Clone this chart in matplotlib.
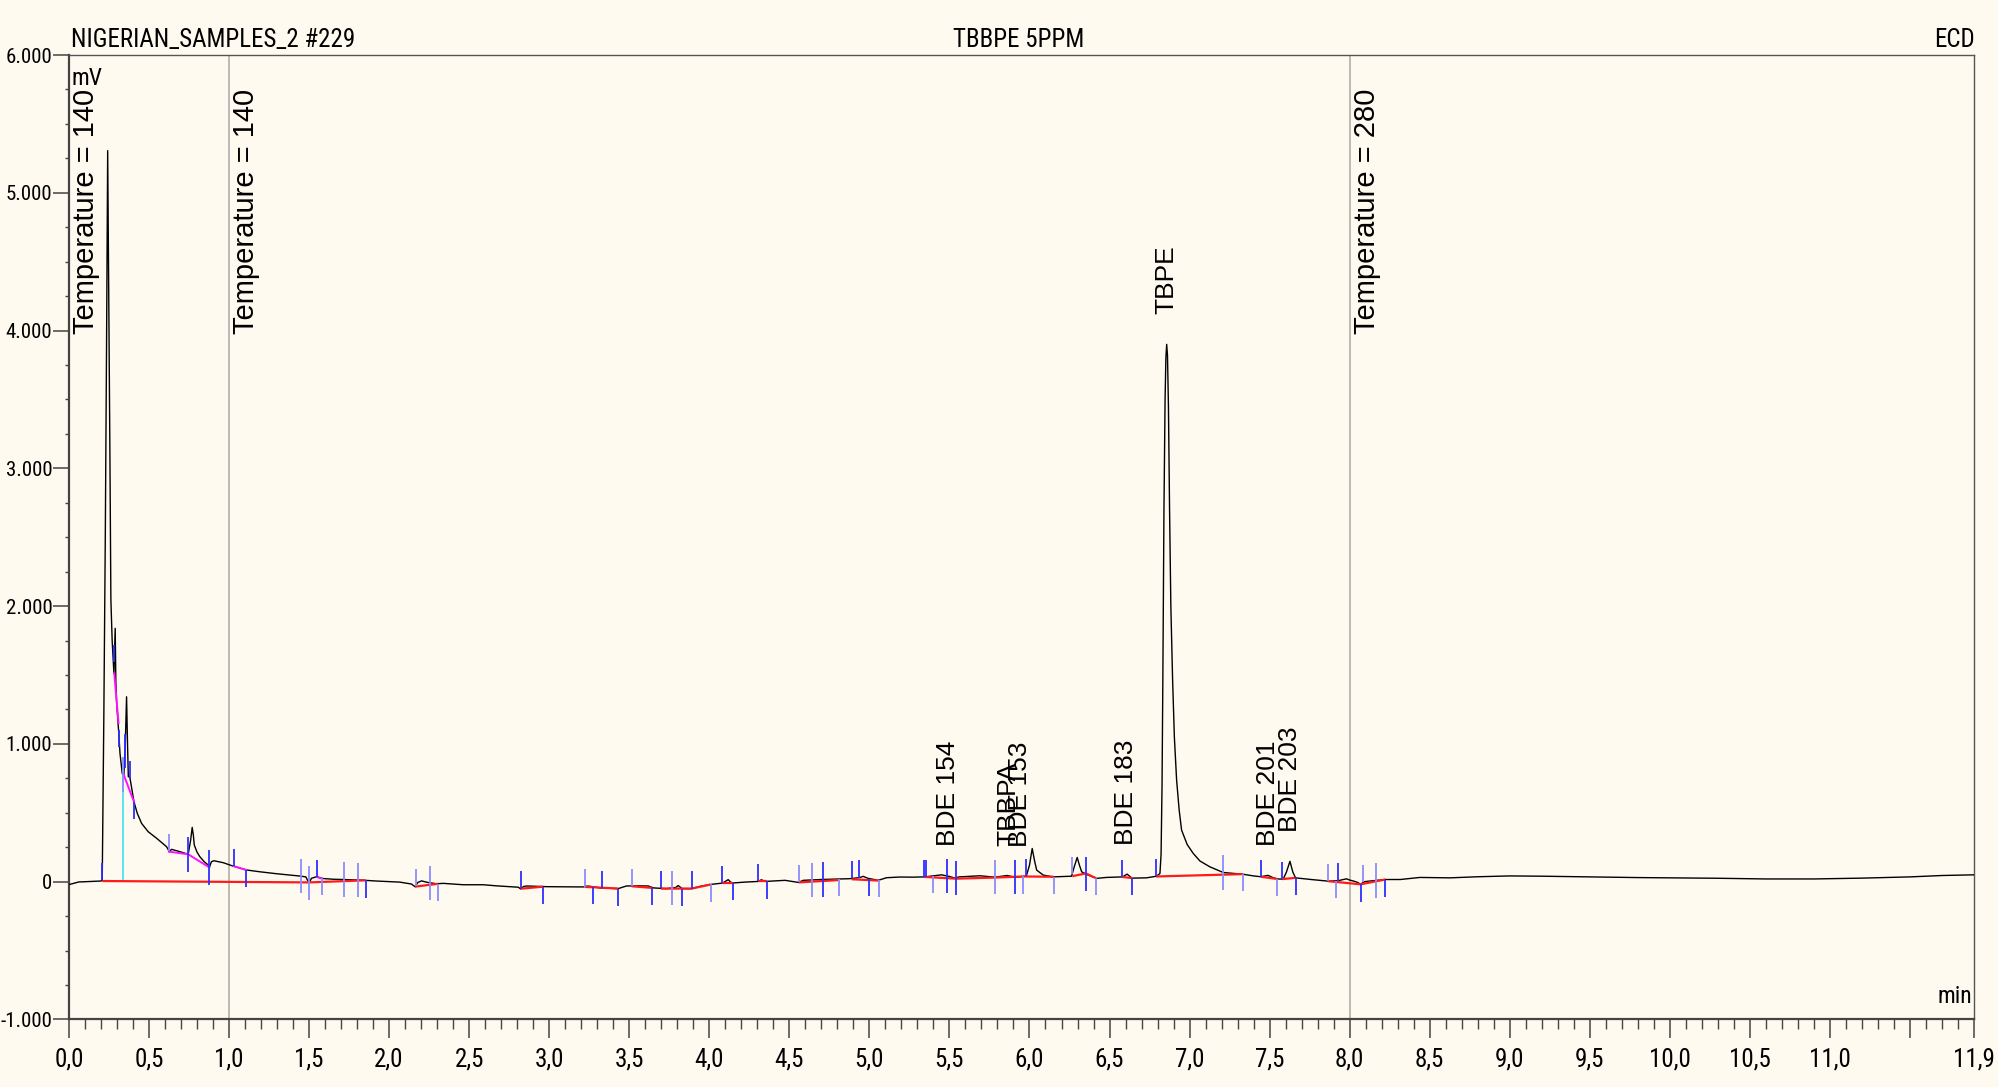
import numpy as np
import matplotlib
matplotlib.use("Agg")
import matplotlib.pyplot as plt
from matplotlib.ticker import FixedLocator, MultipleLocator
from matplotlib import font_manager as fm

# ---------------- data ----------------
time_min = [0.000, 0.020, 0.060, 0.100, 0.150, 0.200, 0.208, 0.218, 0.227, 0.235, 0.242,
            0.250, 0.256, 0.262, 0.270, 0.281, 0.289, 0.293, 0.298, 0.310, 0.319, 0.333,
            0.343, 0.352, 0.360, 0.366, 0.371, 0.380, 0.387, 0.406, 0.427, 0.454, 0.495,
            0.548, 0.610, 0.627, 0.641, 0.693, 0.745, 0.760, 0.770, 0.777, 0.783, 0.800,
            0.818, 0.845, 0.870, 0.877, 0.890, 0.906, 0.964, 1.026, 1.110, 1.193, 1.297,
            1.380, 1.443, 1.480, 1.495, 1.501, 1.515, 1.547, 1.588, 1.650, 1.713, 1.838,
            1.920, 2.005, 2.067, 2.140, 2.161, 2.180, 2.203, 2.240, 2.296, 2.338, 2.463,
            2.588, 2.671, 2.807, 2.821, 2.840, 2.859, 2.983, 3.100, 3.212, 3.235, 3.254,
            3.317, 3.431, 3.483, 3.560, 3.619, 3.650, 3.733, 3.790, 3.806, 3.830, 3.887,
            3.950, 4.014, 4.083, 4.118, 4.140, 4.220, 4.306, 4.325, 4.350, 4.473, 4.556,
            4.587, 4.700, 4.878, 4.940, 4.961, 4.990, 5.055, 5.107, 5.190, 5.270, 5.347,
            5.451, 5.500, 5.534, 5.560, 5.690, 5.784, 5.861, 5.909, 5.980, 6.000, 6.017,
            6.032, 6.045, 6.086, 6.148, 6.263, 6.280, 6.298, 6.312, 6.326, 6.357, 6.419,
            6.480, 6.581, 6.610, 6.640, 6.730, 6.794, 6.815, 6.822, 6.828, 6.833, 6.840,
            6.847, 6.852, 6.857, 6.862, 6.868, 6.875, 6.883, 6.894, 6.905, 6.919, 6.935,
            6.950, 6.985, 7.023, 7.065, 7.127, 7.210, 7.335, 7.400, 7.445, 7.490, 7.520,
            7.547, 7.585, 7.605, 7.627, 7.645, 7.662, 7.751, 7.866, 7.930, 7.980, 8.000,
            8.026, 8.050, 8.068, 8.090, 8.127, 8.222, 8.316, 8.439, 8.626, 8.800, 9.000,
            9.200, 9.500, 9.800, 10.000, 10.300, 10.600, 10.900, 11.200, 11.500, 11.700,
            11.900]
signal = [-20, -15, -2, 0, 2, 5, 10, 1200, 2480, 3900, 5306,
          4050, 3100, 2050, 1750, 1512, 1839, 1450, 1300, 1100, 931, 785,
          774, 1000, 1342, 1000, 762, 760, 714, 581, 496, 423, 363,
          315, 254, 218, 235, 218, 199, 300, 394, 340, 266, 215,
          181, 145, 121, 104, 145, 152, 138, 113, 85, 72, 58,
          48, 41, 35, 0, -8, 25, 36, 23, 18, 16, 11,
          5, 0, -3, -17, -36, -5, 6, -5, -15, -12, -22,
          -22, -30, -40, -52, -35, -31, -36, -37, -38, -32, -33,
          -45, -50, -31, -30, -31, -45, -50, -42, -28, -50, -50,
          -32, -19, -10, 15, -10, -3, 2, 14, 2, 10, -5,
          10, 16, 22, 30, 39, 25, 10, 29, 34, 33, 35,
          50, 38, 26, 35, 43, 33, 45, 33, 40, 120, 241,
          150, 84, 48, 35, 40, 110, 176, 120, 72, 53, 24,
          31, 35, 55, 26, 28, 40, 60, 200, 700, 1466, 2700,
          3500, 3800, 3900, 3820, 3450, 2700, 2000, 1466, 1050, 738, 520,
          375, 270, 205, 150, 108, 67, 54, 42, 36, 46, 30,
          20, 19, 70, 148, 70, 28, 17, 4, 8, 21, 12,
          4, -5, -19, 0, 5, 16, 16, 31, 28, 36, 42,
          40, 35, 30, 28, 25, 20, 20, 26, 35, 45,
          50]

# integration baselines (red) and tangent baselines (magenta)
red_t = [[0.208, 1.501, 1.853], [2.161, 2.306], [2.821, 2.962], [3.223, 3.275, 3.431],
         [3.515, 3.644], [3.698, 3.889, 4.010], [4.081, 4.149], [4.306, 4.362],
         [4.558, 4.808], [4.889, 5.059], [5.343, 5.540, 5.784, 5.961, 6.152],
         [6.267, 6.352, 6.415], [6.579, 6.641], [6.791, 7.331], [7.445, 7.547],
         [7.578, 7.662], [7.866, 8.068, 8.222]]
red_v = [[5, -5, 10], [-36, -15], [-51, -36], [-38, -40, -50],
         [-33, -45], [-50, -50, -20], [-10, -10], [2, 2],
         [-5, 12], [18, 8], [35, 22, 30, 38, 36],
         [40, 60, 26], [35, 26], [38, 55], [36, 20],
         [19, 28], [4, -19, 16]]
magenta_t = [[0.283, 0.310], [0.343, 0.406], [0.625, 0.745, 0.877], [1.030, 1.108], [1.551, 1.581]]
magenta_v = [[1513, 1150], [774, 581], [218, 199, 104], [113, 85], [33, 22]]
cyan_t = 0.339
cyan_top = 780

# peak delimiter marks: time, direction (1 up, -1 down, 0 both), light shade
mark_t = [0.208, 0.283, 0.310, 0.339, 0.350, 0.381, 0.406, 0.625, 0.745, 0.877, 1.030,
          1.108, 1.447, 1.501, 1.551, 1.581, 1.718, 1.805, 1.853, 2.165, 2.256, 2.306,
          2.825, 2.962, 3.223, 3.275, 3.331, 3.431, 3.515, 3.644, 3.698, 3.766, 3.831,
          3.889, 4.010, 4.081, 4.149, 4.306, 4.362, 4.558, 4.639, 4.711, 4.808, 4.889,
          4.936, 4.999, 5.059, 5.343, 5.353, 5.395, 5.486, 5.540, 5.784, 5.911, 5.961,
          5.978, 6.152, 6.267, 6.352, 6.415, 6.579, 6.641, 6.791, 7.210, 7.331, 7.445,
          7.547, 7.578, 7.662, 7.866, 7.914, 7.928, 8.068, 8.085, 8.162, 8.222]
mark_dir = [1, 1, -1, 0, 0, 1, -1, 1, 0, 0, 1,
            -1, 0, 0, 1, -1, 0, 0, -1, 1, 0, -1,
            1, -1, 1, -1, 1, -1, 1, -1, 1, 0, -1,
            1, -1, 1, -1, 1, -1, 1, 0, 0, -1, 1,
            1, -1, -1, 1, 1, -1, 0, 0, 0, 0, -1,
            1, -1, 1, 0, -1, 1, -1, 1, 0, -1, 1,
            -1, 1, -1, 1, -1, 1, -1, 1, 0, -1]
mark_light = [0, 0, 0, 1, 0, 0, 0, 1, 0, 0, 0,
              0, 1, 1, 0, 1, 1, 1, 0, 1, 1, 1,
              0, 0, 1, 0, 0, 0, 1, 0, 0, 1, 0,
              0, 1, 0, 0, 0, 0, 1, 1, 0, 1, 0,
              0, 0, 1, 0, 0, 1, 0, 0, 1, 0, 1,
              0, 1, 1, 0, 1, 0, 0, 0, 1, 1, 0,
              1, 0, 0, 1, 1, 0, 0, 1, 1, 0]

peak_names = ["BDE 154", "TBBPA", "BDE 153", "BDE 183", "TBPE", "BDE 201", "BDE 203"]
peak_times = [5.49, 5.87, 5.94, 6.60, 6.857, 7.49, 7.625]

event_times = [0.0, 1.0, 8.0]
event_labels = ["Temperature = 140", "Temperature = 140", "Temperature = 280"]
event_label_y = 3975

x_major = [0.0, 0.5, 1.0, 1.5, 2.0, 2.5, 3.0, 3.5, 4.0, 4.5, 5.0, 5.5, 6.0, 6.5, 7.0,
           7.5, 8.0, 8.5, 9.0, 9.5, 10.0, 10.5, 11.0, 11.5, 11.9]
x_labels = ["0,0", "0,5", "1,0", "1,5", "2,0", "2,5", "3,0", "3,5", "4,0", "4,5", "5,0",
            "5,5", "6,0", "6,5", "7,0", "7,5", "8,0", "8,5", "9,0", "9,5", "10,0", "10,5",
            "11,0", "", "11,9"]
y_major = [-1000, 0, 1000, 2000, 3000, 4000, 5000, 6000]
y_labels = ["-1.000", "0", "1.000", "2.000", "3.000", "4.000", "5.000", "6.000"]

title_left = "NIGERIAN_SAMPLES_2 #229"
title_center = "TBBPE 5PPM"
title_right = "ECD"
y_unit = "mV"
x_unit = "min"


# ---------------- font selection ----------------
def pick_narrow():
    prefs = ["Liberation Sans Narrow", "Arial Narrow", "Roboto Condensed",
             "Open Sans Condensed", "Noto Sans Condensed", "Noto Sans", "Open Sans",
             "DejaVu Sans Condensed", "DejaVu Sans"]
    narrow_words = ("condensed", "narrow", "compressed")
    cands = []
    for f in fm.fontManager.ttflist:
        st = f.stretch
        is_narrow = False
        if isinstance(st, str):
            is_narrow = "condensed" in st
        else:
            try:
                is_narrow = int(st) < 500
            except Exception:
                pass
        low = (f.name + " " + f.fname).lower()
        if any(w in low for w in narrow_words):
            is_narrow = True
        if not is_narrow:
            continue
        if f.style != "normal":
            continue
        w = f.weight
        try:
            w = int(w)
        except Exception:
            w = 400 if w in ("normal", "regular", "book") else 700
        if w != 400:
            continue
        if "mono" in low or "serif" in low.replace("sans-serif", "") and "sans" not in low:
            continue
        cands.append(f)
    best = None
    best_rank = 999
    for f in cands:
        low = (f.name + " " + f.fname).lower()
        rank = 500
        for i, p in enumerate(prefs):
            if p.lower() in low or p.lower() == f.name.lower():
                rank = i
                break
        if "semi" in low:
            rank += 0.5
        if rank < best_rank:
            best_rank = rank
            best = f
    if best is not None:
        return fm.FontProperties(fname=best.fname)
    return fm.FontProperties(family="DejaVu Sans", stretch="condensed")


NARROW_FP = pick_narrow()


def nfp(size):
    fp = NARROW_FP.copy()
    fp.set_size(size)
    return fp


REG = ["Liberation Sans", "DejaVu Sans"]

# ---------------- drawing ----------------
BG = "#FEFAEF"
fig = plt.figure(figsize=(19.98, 10.87), dpi=100, facecolor=BG)
ax = fig.add_axes([0.0345, 0.0621, 0.9535, 0.8873])
ax.set_facecolor(BG)
ax.set_xlim(0, 11.9)
ax.set_ylim(-1000, 6000)

for t in event_times[1:]:
    ax.axvline(t, color="#A8A8A8", lw=1.1, zorder=1)

ax.plot(time_min, signal, color="black", lw=1.0, zorder=3)

for tt, vv in zip(red_t, red_v):
    ax.plot(tt, vv, color="#FF1A1A", lw=1.6, zorder=4, solid_capstyle="butt")
for tt, vv in zip(magenta_t, magenta_v):
    ax.plot(tt, vv, color="#FF10FF", lw=1.4, zorder=4)
ax.vlines(cyan_t, 0, cyan_top, color="#40E0F0", lw=1.2, zorder=2)

anchor = np.interp(mark_t, time_min, signal)
L = 125
for t, d, lt, y0 in zip(mark_t, mark_dir, mark_light, anchor):
    if d == 1:
        y1, y2 = y0, y0 + L
    elif d == -1:
        y1, y2 = y0 - L, y0
    else:
        y1, y2 = y0 - L, y0 + L
    ax.vlines(t, y1, y2, color="#8C8CFF" if lt else "#2E2EFF", lw=1.3, zorder=5)

peak_y = np.interp(peak_times, time_min, signal)
for name, t, y in zip(peak_names, peak_times, peak_y):
    ax.annotate(name, (t, y), xytext=(0, 21.5), textcoords="offset points",
                rotation=90, ha="center", va="bottom", fontsize=19,
                family=REG, color="black", zorder=6)

for t, lab in zip(event_times, event_labels):
    ax.annotate(lab, (t, event_label_y), xytext=(12.2, 0), textcoords="offset points",
                rotation=90, ha="center", va="bottom", fontsize=21,
                family=REG, color="black", zorder=6, annotation_clip=False)

for side in ["top", "right"]:
    ax.spines[side].set_color("#555555")
    ax.spines[side].set_linewidth(1.0)
for side in ["left", "bottom"]:
    ax.spines[side].set_color("#444444")
    ax.spines[side].set_linewidth(1.6)

ax.xaxis.set_major_locator(FixedLocator(x_major))
ax.set_xticklabels(x_labels)
ax.xaxis.set_minor_locator(MultipleLocator(0.1))
ax.yaxis.set_major_locator(FixedLocator(y_major))
ax.set_yticklabels(y_labels)
ax.yaxis.set_minor_locator(MultipleLocator(250))

ax.tick_params(axis="x", which="major", direction="out", length=14, width=1.1,
               color="#444444", pad=6)
ax.tick_params(axis="x", which="minor", direction="out", length=7, width=1.0, color="#444444")
ax.tick_params(axis="y", which="major", direction="out", length=11.5, width=1.1,
               color="#444444", pad=0.5)
ax.tick_params(axis="y", which="minor", direction="out", length=3, width=1.0, color="#444444")
for lab in ax.get_xticklabels():
    lab.set_fontproperties(nfp(18))
for lab in ax.get_yticklabels():
    lab.set_fontproperties(nfp(15))

ax.text(0.0012, 0.988, y_unit, transform=ax.transAxes, ha="left", va="top",
        fontproperties=nfp(17))
ax.text(0.999, 0.012, x_unit, transform=ax.transAxes, ha="right", va="bottom",
        fontproperties=nfp(17))

fig.text(71 / 1998, 1 - 47 / 1087, title_left, ha="left", va="baseline", fontproperties=nfp(18))
fig.text(1019 / 1998, 1 - 47 / 1087, title_center, ha="center", va="baseline", fontproperties=nfp(18))
fig.text(1975 / 1998, 1 - 47 / 1087, title_right, ha="right", va="baseline", fontproperties=nfp(18))

fig.savefig("out.png", dpi=100, facecolor=BG)
